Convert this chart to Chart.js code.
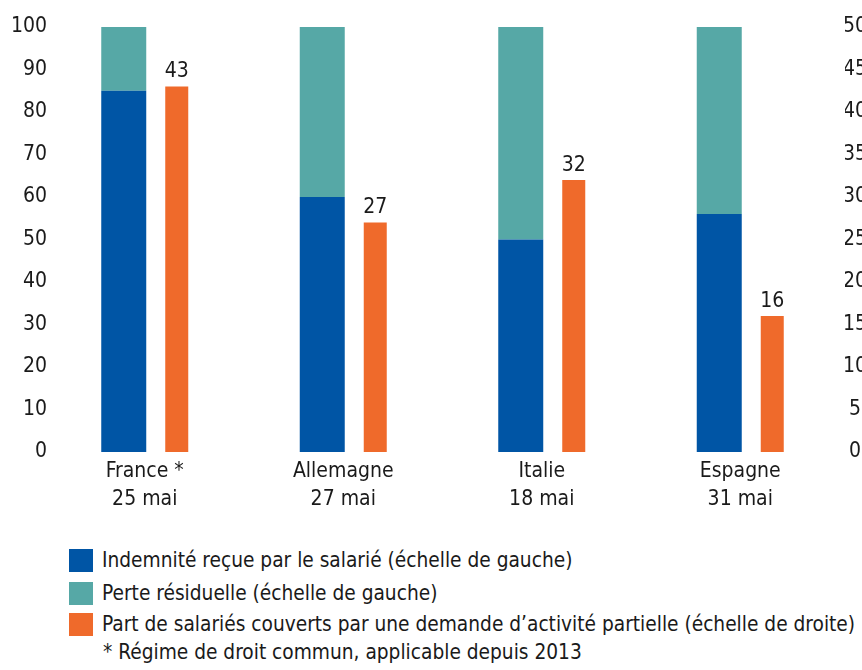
<!DOCTYPE html>
<html>
<head>
<meta charset="utf-8">
<script src="https://cdn.jsdelivr.net/npm/chart.js@4/dist/chart.umd.min.js"></script>
<style>
  body { margin: 0; background: #fff; font-family: "DejaVu Sans Condensed", "Liberation Sans Narrow", sans-serif; color: #1a1a1a; }
  #wrap { position: relative; width: 862px; height: 670px; }
  #chart-box { position: absolute; left: 0; top: 0; width: 862px; height: 530px; }
  .leg { position: absolute; left: 69px; height: 23px; line-height: 23px; font-size: 20.7px; white-space: nowrap; }
  .leg span.sq { position: absolute; left: 0; top: 0; width: 24px; height: 23px; }
  .leg span.tx { position: absolute; left: 33px; top: 0; }
</style>
</head>
<body>
<div id="wrap">
  <div id="chart-box"><canvas id="myChart" width="862" height="530"></canvas></div>
  <div class="leg" style="top:549px"><span class="sq" style="background:#0055a5"></span><span class="tx">Indemnité reçue par le salarié (échelle de gauche)</span></div>
  <div class="leg" style="top:582px"><span class="sq" style="background:#56a8a6"></span><span class="tx">Perte résiduelle (échelle de gauche)</span></div>
  <div class="leg" style="top:613px"><span class="sq" style="background:#ef6a2b"></span><span class="tx">Part de salariés couverts par une demande d’activité partielle (échelle de droite)</span></div>
  <div class="leg" style="top:641px;left:103px">* Régime de droit commun, applicable depuis 2013</div>
</div>
<script>
var countries = [["France *", "25 mai"], ["Allemagne", "27 mai"], ["Italie", "18 mai"], ["Espagne", "31 mai"]];
var indemnite = [85, 60, 50, 56];
var perte = [15, 40, 50, 44];
var partSalaries = [43, 27, 32, 16];
var leftTicks = [0, 10, 20, 30, 40, 50, 60, 70, 80, 90, 100];
var rightTicks = [0, 5, 10, 15, 20, 25, 30, 35, 40, 45, 50];

var fontFamily = '"DejaVu Sans Condensed", "Liberation Sans Narrow", sans-serif';
var textColor = "#1a1a1a";

// numbers above the orange bars
var valueLabels = {
  id: "valueLabels",
  afterDatasetsDraw: function (chart) {
    var ctx = chart.ctx;
    var meta = chart.getDatasetMeta(2);
    ctx.save();
    ctx.font = "21px " + fontFamily;
    ctx.fillStyle = textColor;
    ctx.textAlign = "center";
    ctx.textBaseline = "bottom";
    meta.data.forEach(function (bar, i) {
      ctx.fillText(partSalaries[i], bar.x, bar.y - 4);
    });
    ctx.restore();
  }
};

var ctx = document.getElementById("myChart").getContext("2d");
var myChart = new Chart(ctx, {
  type: "bar",
  data: {
    labels: countries,
    datasets: [
      { label: "Indemnité", data: indemnite, backgroundColor: "#0055a5", stack: "a", yAxisID: "y", categoryPercentage: 0.534, barPercentage: 0.849 },
      { label: "Perte", data: perte, backgroundColor: "#56a8a6", stack: "a", yAxisID: "y", categoryPercentage: 0.534, barPercentage: 0.849 },
      { label: "Part", data: partSalaries, backgroundColor: "#ef6a2b", stack: "b", yAxisID: "y2", categoryPercentage: 0.534, barPercentage: 0.434 }
    ]
  },
  options: {
    responsive: false,
    animation: false,
    layout: { padding: { top: 27, left: 0, right: 0, bottom: 0 } },
    plugins: { legend: { display: false }, tooltip: { enabled: false } },
    scales: {
      x: {
        grid: { display: false, drawTicks: false },
        border: { display: false },
        ticks: { color: textColor, font: { family: fontFamily, size: 21, lineHeight: 1.33 }, padding: 6, labelOffset: -5.5, maxRotation: 0 },
        afterFit: function (s) { s.height = 530 - 27 - 425; }
      },
      y: {
        position: "left",
        min: 0, max: 100,
        grid: { display: false, drawTicks: false },
        border: { display: false },
        afterBuildTicks: function (s) { s.ticks = leftTicks.map(function (v) { return { value: v }; }); },
        ticks: { color: textColor, font: { family: fontFamily, size: 21 }, padding: 4 },
        afterFit: function (s) { s.width = 51; }
      },
      y2: {
        position: "right",
        min: 0, max: 50,
        grid: { display: false, drawTicks: false },
        border: { display: false },
        afterBuildTicks: function (s) { s.ticks = rightTicks.map(function (v) { return { value: v }; }); },
        ticks: { color: textColor, font: { family: fontFamily, size: 21 }, padding: -2, crossAlign: "center" },
        afterFit: function (s) { s.width = 17; }
      }
    }
  },
  plugins: [valueLabels]
});
</script>
</body>
</html>
